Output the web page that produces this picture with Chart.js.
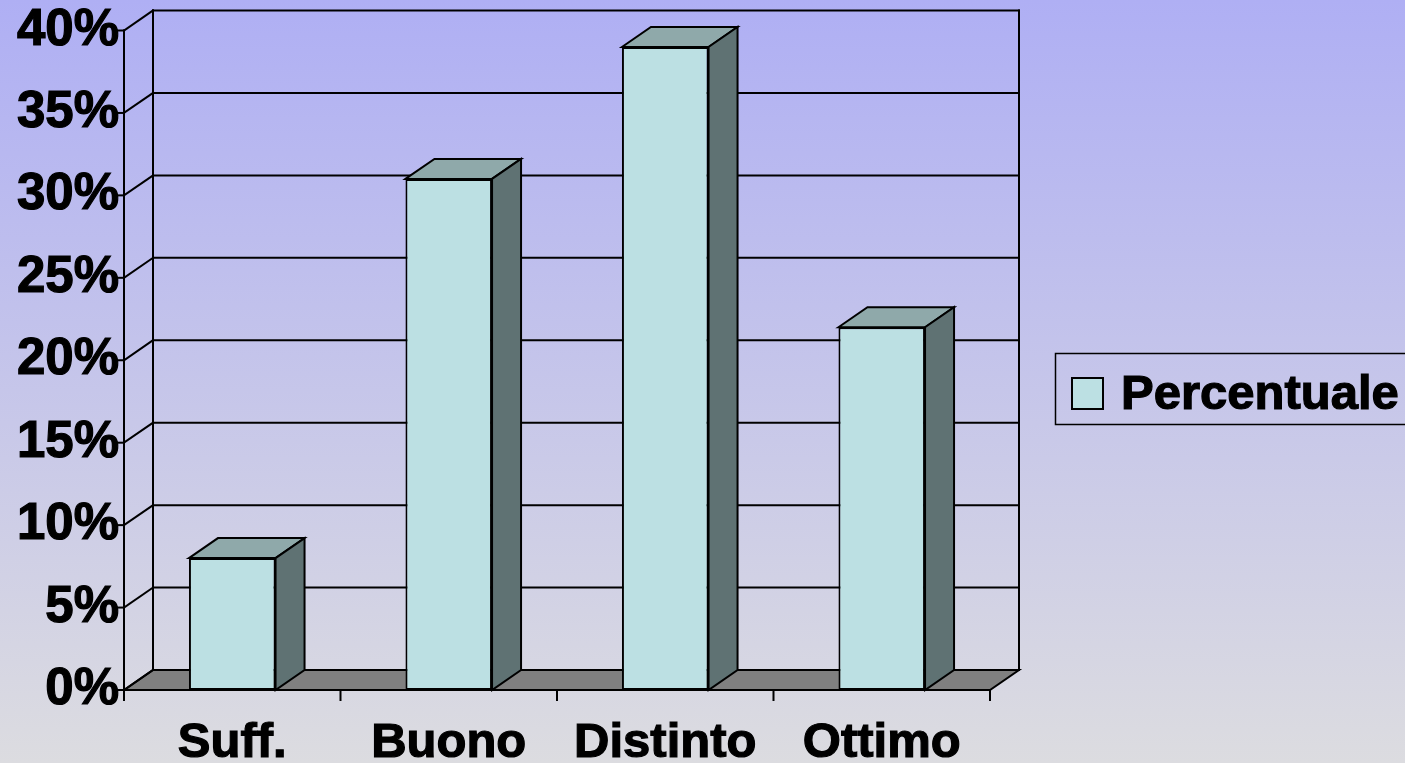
<!DOCTYPE html>
<html>
<head>
<meta charset="utf-8">
<script src="https://cdn.jsdelivr.net/npm/chart.js@4/dist/chart.umd.min.js"></script>
<style>
html, body { margin: 0; padding: 0; overflow: hidden; }
#wrap { width: 1405px; height: 763px; }
</style>
</head>
<body>
<div id="wrap"><canvas id="c" width="1405" height="763"></canvas></div>
<script>
// data
const categories = ['Suff.', 'Buono', 'Distinto', 'Ottimo'];
const seriesLabel = 'Percentuale';
const percentuale = [8, 31, 39, 22];
const yMax = 40;
const yStep = 5;

// fake 3d depth of the walls / bars
const DX = 29;
const DY = -20;
const FONT = '"Liberation Sans", Arial, sans-serif';
const barFront = '#bce0e3';
const barTop = '#8fa9aa';
const barSide = '#5f7273';

function line(ctx, x1, y1, x2, y2) {
    ctx.beginPath();
    ctx.moveTo(x1, y1);
    ctx.lineTo(x2, y2);
    ctx.stroke();
}

const fake3d = {
    id: 'fake3d',
    beforeDraw: (chart) => {
        const { ctx, width, height } = chart;
        ctx.save();
        const g = ctx.createLinearGradient(0, 0, 0, height);
        g.addColorStop(0, '#afaff4');
        g.addColorStop(1, '#dcdce0');
        ctx.fillStyle = g;
        ctx.fillRect(0, 0, width, height);
        ctx.restore();
    },
    beforeDatasetsDraw: (chart) => {
        const { ctx, chartArea: a, scales: { x, y } } = chart;
        const y0 = y.getPixelForValue(0);
        const yTop = y.getPixelForValue(yMax);
        ctx.save();
        ctx.lineWidth = 2;
        ctx.strokeStyle = '#000';
        ctx.lineCap = 'square';

        // floor
        ctx.fillStyle = '#808080';
        ctx.beginPath();
        ctx.moveTo(a.left, y0);
        ctx.lineTo(a.left + DX, y0 + DY);
        ctx.lineTo(a.right + DX, y0 + DY);
        ctx.lineTo(a.right, y0);
        ctx.closePath();
        ctx.fill();
        ctx.stroke();

        // back wall + side wall grid
        y.ticks.forEach(t => {
            const py = y.getPixelForValue(t.value);
            line(ctx, a.left + DX, py + DY, a.right + DX, py + DY);
            line(ctx, a.left, py, a.left + DX, py + DY);
            line(ctx, a.left - 11, py, a.left, py);
        });
        line(ctx, a.left + DX, yTop + DY, a.left + DX, y0 + DY);
        line(ctx, a.right + DX, yTop + DY, a.right + DX, y0 + DY);

        // front axes
        line(ctx, a.left, yTop, a.left, y0 + 10);
        const half = (x.getPixelForValue(1) - x.getPixelForValue(0)) / 2;
        for (let i = 1; i <= categories.length; i++) {
            const px = x.getPixelForValue(i) - half;
            line(ctx, px, y0, px, y0 + 10);
        }

        // top and side faces of the bars
        chart.getDatasetMeta(0).data.forEach(el => {
            const p = el.getProps(['x', 'y', 'base', 'width'], true);
            const l = p.x - p.width / 2, r = p.x + p.width / 2;
            ctx.fillStyle = barTop;
            ctx.beginPath();
            ctx.moveTo(l, p.y);
            ctx.lineTo(l + DX, p.y + DY);
            ctx.lineTo(r + DX, p.y + DY);
            ctx.lineTo(r, p.y);
            ctx.closePath();
            ctx.fill();
            ctx.stroke();
            ctx.fillStyle = barSide;
            ctx.beginPath();
            ctx.moveTo(r, p.y);
            ctx.lineTo(r + DX, p.y + DY);
            ctx.lineTo(r + DX, p.base + DY);
            ctx.lineTo(r, p.base);
            ctx.closePath();
            ctx.fill();
            ctx.stroke();
        });
        ctx.restore();
    },
    afterDraw: (chart) => {
        // legend box on the right
        const { ctx } = chart;
        const ds = chart.data.datasets[0];
        ctx.save();
        ctx.lineWidth = 1.5;
        ctx.strokeStyle = '#000';
        ctx.strokeRect(1055.5, 353.5, 400, 71);
        ctx.fillStyle = ds.backgroundColor;
        ctx.fillRect(1072, 378, 31, 31);
        ctx.lineWidth = 2;
        ctx.strokeRect(1072, 378, 31, 31);
        ctx.fillStyle = '#000';
        ctx.font = 'bold 49px ' + FONT;
        ctx.textBaseline = 'alphabetic';
        ctx.lineWidth = 1.2;
        ctx.strokeText(ds.label, 1121, 409);
        ctx.fillText(ds.label, 1121, 409);
        ctx.restore();
    }
};

new Chart(document.getElementById('c'), {
    type: 'bar',
    data: {
        labels: categories,
        datasets: [{
            label: seriesLabel,
            data: percentuale,
            backgroundColor: barFront,
            borderColor: '#000',
            borderWidth: 2,
            borderSkipped: false,
            categoryPercentage: 1,
            barPercentage: 0.4
        }]
    },
    options: {
        responsive: false,
        animation: false,
        devicePixelRatio: 1,
        layout: { padding: { top: 30, right: 415, left: 0, bottom: 0 } },
        plugins: { legend: { display: false }, tooltip: { enabled: false } },
        scales: {
            x: {
                grid: { display: false, drawTicks: false },
                border: { display: false },
                ticks: {
                    color: '#000', padding: 24, maxRotation: 0,
                    textStrokeColor: '#000', textStrokeWidth: 1.2,
                    font: { family: FONT, size: 49, weight: 'bold' }
                },
                afterFit: s => { s.height = 73; }
            },
            y: {
                min: 0,
                max: yMax,
                grid: { display: false, drawTicks: false },
                border: { display: false },
                ticks: {
                    stepSize: yStep,
                    color: '#000',
                    padding: 5,
                    textStrokeColor: '#000', textStrokeWidth: 1.2,
                    font: { family: FONT, size: 51, weight: 'bold', lineHeight: 1 },
                    callback: v => v + '%'
                },
                afterFit: s => { s.width = 124; }
            }
        }
    },
    plugins: [fake3d]
});
</script>
</body>
</html>
